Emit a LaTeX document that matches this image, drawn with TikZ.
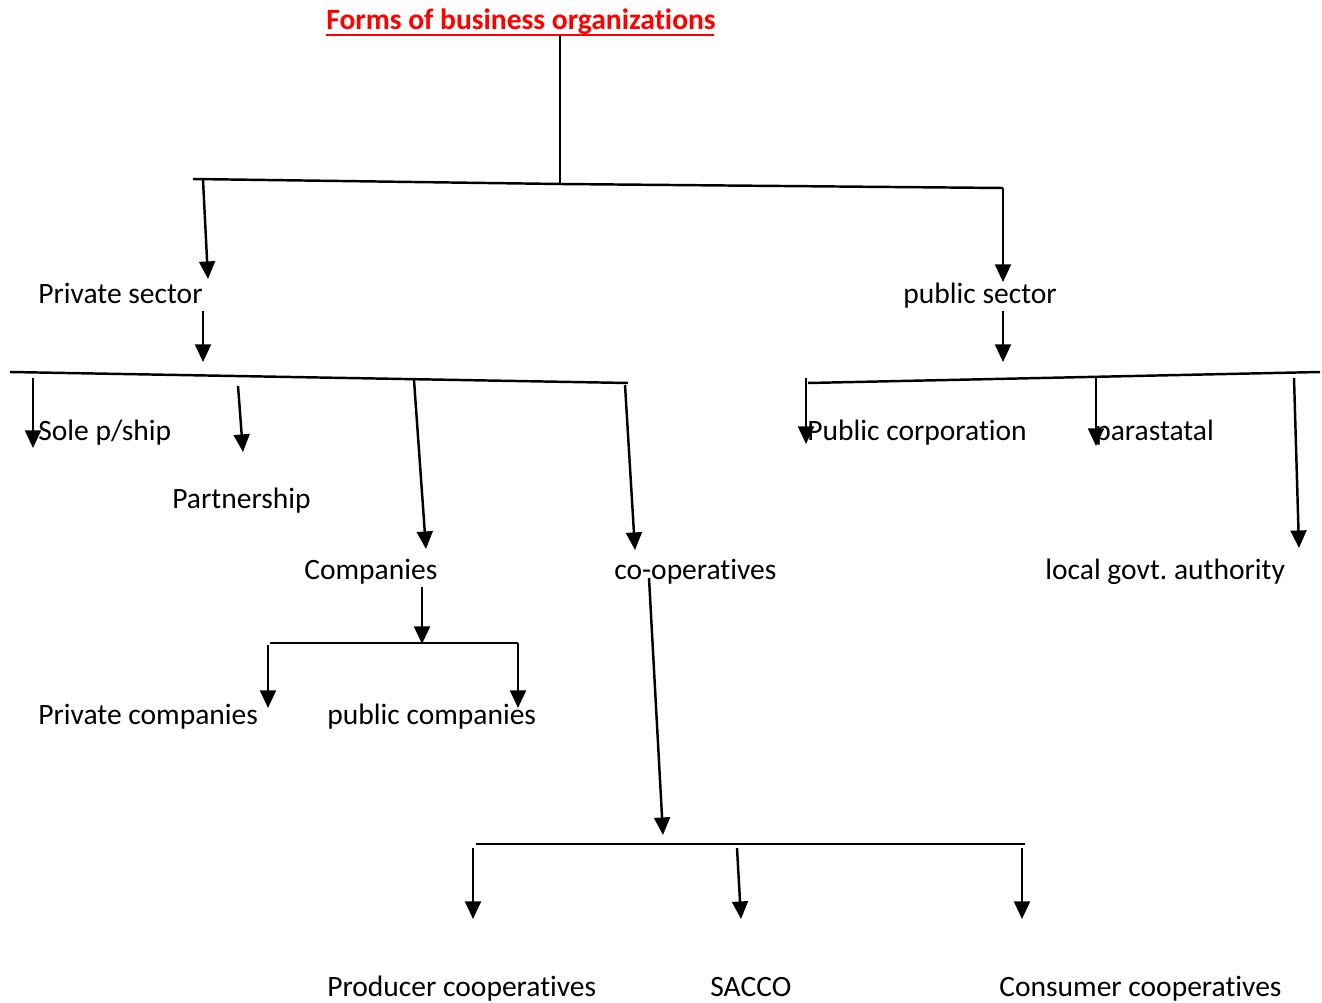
\documentclass[tikz,border=0pt]{standalone}
\usepackage{fontspec}
\setmainfont[Ligatures=CommonOff]{Carlito}
\frenchspacing
\usetikzlibrary{arrows.meta}
\begin{document}
\begin{tikzpicture}[x=0.02cm, y=-0.02cm,
    lbl/.style={anchor=base west, inner sep=0pt, font=\fontsize{16.8}{20}\selectfont},
    ln/.style={line width=1.4pt},
    arr/.style={line width=1.4pt, -{Triangle[length=10pt, width=9pt]}}]
	\useasboundingbox (0,0) rectangle (1322,1003);

	% Title and the main split
	\node[lbl, font=\fontsize{16.8}{20}\selectfont\bfseries, text=red] (title) at (326,30) {Forms of business organizations};
	\coordinate (ulft) at (326,35);
	\coordinate (urgt) at (714,35);
	\draw[red, line width=1.3pt] (ulft) -- (urgt);
	\coordinate (tstem) at (560,36);
	\coordinate (tmid) at (560,184);
	\coordinate (tleft) at (193,179);
	\coordinate (tright) at (1003,188);
	\draw[ln] (tstem) -- (tmid);
	\draw[ln] (tleft) -- (tmid) -- (tright);

	% Sector labels
	\node[lbl] (priv) at (38,304) {Private sector};
	\node[lbl] (pub) at (903,304) {public sector};
	\draw[arr] (203,180) -- (208,279);
	\draw[arr] (tright) -- (1003,282);
	\draw[arr] (203,311) -- (203,362);
	\draw[arr] (1003,311) -- (1003,362);

	% Private sector branches
	\coordinate (pbl) at (10,372);
	\coordinate (pbr) at (628,383);
	\draw[ln] (pbl) -- (pbr);
	\node[lbl] (sole) at (38,440) {Sole p/ship};
	\node[lbl] (partner) at (172,508) {Partnership};
	\node[lbl] (comp) at (304,579) {Companies};
	\node[lbl] (coop) at (614,579) {co-operatives};
	\draw[arr] (33,378) -- (33,448);
	\draw[arr] (238,386) -- (243,452);
	\draw[arr] (414,380) -- (426,549);
	\draw[arr] (625,385) -- (635,550);

	% Public sector branches
	\coordinate (ubl) at (808,383);
	\coordinate (ubr) at (1320,372);
	\draw[ln] (ubl) -- (ubr);
	\node[lbl] (corp) at (807,440) {Public corporation};
	\node[lbl] (para) at (1095,440) {parastatal};
	\node[lbl] (local) at (1045,579) {local govt. authority};
	\draw[arr] (806,378) -- (806,444);
	\draw[arr] (1096,376) -- (1096,446);
	\draw[arr] (1294,378) -- (1299,548);

	% Companies
	\coordinate (cbl) at (270,643);
	\coordinate (cbr) at (518,643);
	\draw[arr] (422,587) -- (422,644);
	\draw[ln] (cbl) -- (cbr);
	\node[lbl] (privc) at (38,724) {Private companies};
	\node[lbl] (pubc) at (327,724) {public companies};
	\draw[arr] (268,645) -- (268,708);
	\draw[arr] (cbr) -- (518,708);

	% Co-operatives
	\coordinate (kbl) at (476,844);
	\coordinate (kbr) at (1025,844);
	\draw[arr] (649,578) -- (663,835);
	\draw[ln] (kbl) -- (kbr);
	\node[lbl] (prod) at (327,996) {Producer cooperatives};
	\node[lbl] (sacco) at (710,996) {SACCO};
	\node[lbl] (cons) at (999,996) {Consumer cooperatives};
	\draw[arr] (473,848) -- (473,919);
	\draw[arr] (737,848) -- (741,919);
	\draw[arr] (1022,848) -- (1022,919);
\end{tikzpicture}
\end{document}
